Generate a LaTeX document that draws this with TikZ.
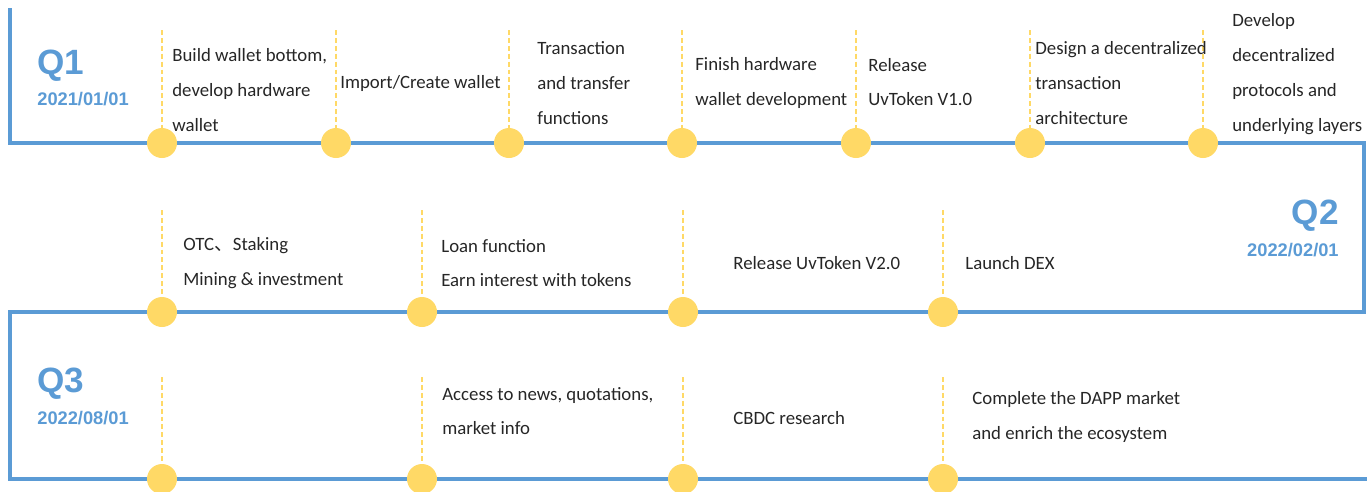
\documentclass[tikz,border=0pt]{standalone}
\usepackage{fontspec}
\setmainfont{Carlito}
\newfontfamily\headfont{Liberation Sans}
\newfontfamily\cjk{Noto Sans CJK SC}
\definecolor{lineblue}{HTML}{5B9BD5}
\definecolor{dotgold}{HTML}{FFD966}
\definecolor{inkgray}{HTML}{262626}

\begin{document}
\begin{tikzpicture}[x=0.02cm, y=-0.02cm,
  every node/.style={font=\fontsize{10.7}{19.8}\selectfont, text=inkgray},
  milestone/.style={circle, fill=dotgold, minimum size=0.6cm, inner sep=0pt},
  guide/.style={dotgold, line width=0.85pt, dash pattern=on 2.8pt off 1.7pt},
  task/.style={anchor=west, align=left, inner sep=0pt},
  quarter/.style={font=\headfont\bfseries\fontsize{20}{24}\selectfont, text=lineblue, inner sep=0pt},
  qdate/.style={font=\headfont\bfseries\fontsize{10.4}{12}\selectfont, text=lineblue, inner sep=0pt}]
  \useasboundingbox (0,0) rectangle (1372,491);

  % Timeline
  \draw[lineblue, line width=2.3pt] (10,8) -- (10,143) -- (1364,143) -- (1364,312)
    -- (10,312) -- (10,479) -- (1367,479);

  % Quarters
  \node[quarter, anchor=west] (q1) at (37,66) {Q1};
  \node[qdate, anchor=west] (q1date) at (37,99) {2021/01/01};
  \node[quarter, anchor=east] (q2) at (1339,216) {Q2};
  \node[qdate, anchor=east] (q2date) at (1339,250) {2022/02/01};
  \node[quarter, anchor=west] (q3) at (37,384) {Q3};
  \node[qdate, anchor=west] (q3date) at (37,418) {2022/08/01};

  % Milestones
  \foreach \x [count=\i] in {162,336,509,682,856,1030,1203} {
    \node[milestone] (a\i) at (\x,143) {};
    \coordinate (ta\i) at (\x,30);
    \draw[guide] (ta\i) -- (a\i);
  }
  \foreach \x [count=\i] in {162,422,683,943} {
    \node[milestone] (b\i) at (\x,312) {};
    \coordinate (tb\i) at (\x,210);
    \draw[guide] (tb\i) -- (b\i);
    \node[milestone] (c\i) at (\x,479) {};
    \coordinate (tc\i) at (\x,377);
    \draw[guide] (tc\i) -- (c\i);
  }

  % Tasks, first row
  \node[task] (wallet) at (172,90) {Build wallet bottom,\\develop hardware\\wallet};
  \node[task] (import) at (340,83) {Import/Create wallet};
  \node[task] (transfer) at (537,83) {Transaction\\and transfer\\functions};
  \node[task] (hardware) at (695,83) {Finish hardware\\wallet development};
  \node[task] (uv1) at (868,82) {Release\\UvToken V1.0};
  \node[task] (design) at (1035,83) {Design a decentralized\\transaction\\architecture};
  \node[task] (protocols) at (1232,74) {Develop\\decentralized\\protocols and\\underlying layers};

  % Tasks, second row
  \node[task] (otc) at (183,263) {OTC{\cjk 、}Staking\\Mining \& investment};
  \node[task] (loan) at (441,263) {Loan function\\Earn interest with tokens};
  \node[task] (uv2) at (733,263) {Release UvToken V2.0};
  \node[task] (dex) at (965,263) {Launch DEX};

  % Tasks, third row
  \node[task] (news) at (442,411) {Access to news, quotations,\\market info};
  \node[task] (cbdc) at (733,418) {CBDC research};
  \node[task] (dapp) at (972,417) {Complete the DAPP market\\and enrich the ecosystem};
\end{tikzpicture}
\end{document}
